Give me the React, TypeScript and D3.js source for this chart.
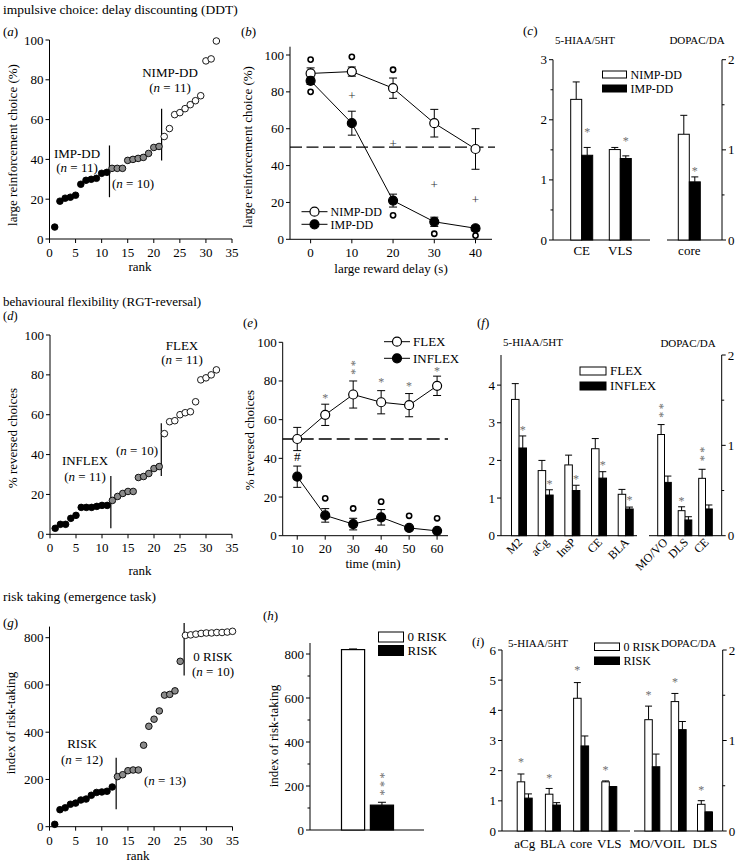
import React from "react";
import * as d3 from "d3";

const FONT = "'Liberation Serif','Times New Roman',serif";
const GRAY = "#8a8a8a";
const STARC = "#707070";

// ---------- (a) DDT ranking ----------
const ddtRankValues = [6, 19, 20.5, 21, 22, 27.5, 29.5, 30, 30.5, 33, 33.5, 35.5, 35.5, 35.5, 39.5, 40, 40.5, 41, 43, 46, 46.5, 51.5, 55.5, 62.5, 63.5, 65.5, 67.5, 69.5, 72, 89.5, 90.5, 99.5];
const ddtGroupSizes = [11, 10, 11];
const ddtCutRanks = [11.5, 21.5];
const ddtCutFrom = [21, 39.5];
const ddtCutTo = [47, 65.5];

// ---------- (b) DDT delay curve ----------
const delays = [0, 10, 20, 30, 40];
const nimpMeans = [90, 91, 82, 63, 49];
const nimpErrs = [3, 2.5, 5.5, 7.5, 11];
const impMeans = [86, 63, 21, 9.5, 6];
const impErrs = [2, 6.5, 3.5, 2.5, 1.5];
const ddtOutDelays = [0, 0, 10, 20, 20, 30, 40];
const ddtOutValues = [97.5, 80, 99, 92, 13, 3, 2];
const ddtPlusDelays = [10, 20, 30, 40];
const ddtPlusValues = [78, 52, 30, 21.5];

// ---------- (c) DDT neurochemistry ----------
const cLeftCats = ["CE", "VLS"];
const cNimpL = [2.34, 1.505];
const cNimpLErr = [2.63, 1.54];
const cImpL = [1.41, 1.356];
const cImpLErr = [1.54, 1.4];
const cStarsL = [1.83, 1.68];
const cRightCats = ["core"];
const cNimpR = [1.173];
const cNimpRErr = [1.383];
const cImpR = [0.645];
const cImpRErr = [0.7];
const cStarsR = [0.786];

// ---------- (d) RGT reversal ranking ----------
const revRankValues = [3, 5, 5, 8, 9.5, 13.5, 13.5, 13.5, 14, 14.5, 14.5, 17, 19, 20.5, 21.5, 21.5, 28.5, 29, 30.5, 33, 34, 50.5, 56.5, 57, 60, 61, 61.5, 66.5, 77.5, 78.5, 80, 82.5];
const revGroupSizes = [11, 10, 11];
const revCutRanks = [11.7, 21.4];
const revCutFrom = [3, 29.2];
const revCutTo = [29.2, 55.7];

// ---------- (e) reversal time course ----------
const times = [10, 20, 30, 40, 50, 60];
const flexMeans = [50, 62.5, 73, 69, 67.5, 77.5];
const flexErrs = [6, 5.5, 7, 6, 6, 5];
const inflexMeans = [30.5, 10.5, 6, 9.5, 4, 2.5];
const inflexErrs = [5.5, 3.5, 3, 4, 1, 1];
const eStarTimes = [20, 30, 40, 50, 60];
const eStarValues = [72.2, 84.8, 80.2, 78, 85.7];
const eStarCounts = [1, 2, 1, 1, 1];
const eHashTime = 10;
const eHashValue = 40.9;
const eOutTimes = [20, 30, 40, 50, 60];
const eOutValues = [19.3, 14.1, 17.6, 10.3, 9];

// ---------- (f) reversal neurochemistry ----------
const fLeftCats = ["M2", "aCg", "InsP", "CE", "BLA"];
const fFlexL = [3.62, 1.73, 1.88, 2.31, 1.1];
const fFlexLErr = [4.04, 2.0, 2.14, 2.58, 1.23];
const fInflexL = [2.33, 1.08, 1.2, 1.53, 0.71];
const fInflexLErr = [2.65, 1.22, 1.34, 1.7, 0.76];
const fStarsL = [2.84, 1.42, 1.55, 1.93, 1.0];
const fRightCats = ["MO/VO", "DLS", "CE"];
const fFlexR = [1.12, 0.277, 0.635];
const fFlexRErr = [1.23, 0.32, 0.735];
const fInflexR = [0.59, 0.174, 0.296];
const fInflexRErr = [0.66, 0.21, 0.34];
const fStarsR = [1.34, 0.4, 0.857];
const fStarsRCount = [2, 1, 2];

// ---------- (g) emergence ranking ----------
const riskRankValues = [10, 72, 80, 95, 100, 113, 117, 133, 145, 147, 150, 168, 212, 220, 237, 240, 240, 345, 425, 455, 490, 557, 560, 575, 700, 810, 812, 815, 818, 820, 820, 822, 822, 824, 827];
const riskGroupSizes = [12, 13, 10];
const riskCutRanks = [12.75, 25.75];
const riskCutFrom = [74, 640];
const riskCutTo = [292, 862];

// ---------- (h) risk index ----------
const hCats = ["0 RISK", "RISK"];
const hValues = [820, 113];
const hErrs = [823, 126];
const hStarValue = 171;

// ---------- (i) risk neurochemistry ----------
const iLeftCats = ["aCg", "BLA", "core", "VLS"];
const iZeroL = [1.63, 1.22, 4.4, 1.63];
const iZeroLErr = [1.89, 1.41, 4.92, 1.66];
const iRiskL = [1.09, 0.86, 2.82, 1.47];
const iRiskLErr = [1.23, 0.94, 3.15, 1.47];
const iStarsL = [2.33, 1.8, 5.39, 2.08];
const iRightCats = ["MO/VO", "IL", "DLS"];
const iZeroR = [1.23, 1.43, 0.295];
const iZeroRErr = [1.38, 1.52, 0.335];
const iRiskR = [0.71, 1.12, 0.21];
const iRiskRErr = [0.85, 1.21, 0.21];
const iStarsR = [1.52, 1.66, 0.47];

// ================= helpers =================
function YAxis({ scale, x, ticks, minor = [], topValue, side = "left", fmt = (d: number) => String(d) }: any) {
  const r0 = scale.range()[0];
  const yTop = topValue !== undefined ? scale(topValue) : scale.range()[1];
  const dir = side === "left" ? -1 : 1;
  return (
    <g>
      <line x1={x} x2={x} y1={r0} y2={yTop} stroke="#000" strokeWidth={1} />
      {ticks.map((t: number) => (
        <g key={"t" + t}>
          <line x1={x} x2={x + dir * 4} y1={scale(t)} y2={scale(t)} stroke="#000" />
          <text x={x + dir * 6} y={scale(t) + 4.5} textAnchor={side === "left" ? "end" : "start"} fontSize={13}>
            {fmt(t)}
          </text>
        </g>
      ))}
      {minor.map((t: number) => (
        <line key={"m" + t} x1={x} x2={x + dir * 2.5} y1={scale(t)} y2={scale(t)} stroke="#000" />
      ))}
    </g>
  );
}

function XAxis({ scale, y, ticks, x0, x1, off = 18 }: any) {
  return (
    <g>
      <line x1={x0} x2={x1} y1={y} y2={y} stroke="#000" />
      {ticks.map((t: number) => (
        <g key={"x" + t}>
          <line x1={scale(t)} x2={scale(t)} y1={y} y2={y + 4} stroke="#000" />
          <text x={scale(t)} y={y + off} textAnchor="middle" fontSize={13}>
            {t}
          </text>
        </g>
      ))}
    </g>
  );
}

// Significance stars. A stack of n stars is one text run turned to read upwards,
// so the asterisks sit one above the other (y = centre of the lowest star).
function Stars({ x, y, n = 1, color = STARC }: any) {
  if (n === 1) {
    return (
      <text x={x} y={y + 5.5} textAnchor="middle" fontSize={12} fill={color}>
        *
      </text>
    );
  }
  const str = "*".repeat(n);
  return (
    <text
      transform={`translate(${x + 5.8},${y + 3}) rotate(-90)`}
      fontSize={12}
      fill={color}
      letterSpacing={2.5}
    >
      {str}
    </text>
  );
}

function NLabel({ x, y, n }: any) {
  return (
    <text x={x} y={y} textAnchor="middle" fontSize={13}>
      (<tspan fontStyle="italic">n</tspan> = {n})
    </text>
  );
}

function groupFills(sizes: number[]) {
  const fills: string[] = [];
  const colors = ["#000", GRAY, "#fff"];
  sizes.forEach((s, gi) => {
    for (let k = 0; k < s; k++) fills.push(colors[gi]);
  });
  return fills;
}

function RankDots({ values, sizes, xs, ys }: any) {
  const fills = groupFills(sizes);
  return (
    <g>
      {values.map((v: number, i: number) => (
        <circle key={i} cx={xs(i + 1)} cy={ys(v)} r={3.3} fill={fills[i]} stroke="#000" strokeWidth={0.9} />
      ))}
    </g>
  );
}

function CutLines({ ranks, from, to, xs, ys }: any) {
  return (
    <g>
      {ranks.map((r: number, i: number) => (
        <line key={i} x1={xs(r)} x2={xs(r)} y1={ys(from[i])} y2={ys(to[i])} stroke="#000" strokeWidth={1.2} />
      ))}
    </g>
  );
}

function BarPairs({ pos, ys, open, openErr, filled, filledErr, w }: any) {
  return (
    <g>
      {open.map((v: number, i: number) => {
        const c = pos(i);
        const ox = c - w;
        return (
          <g key={i}>
            <line x1={c - w / 2} x2={c - w / 2} y1={ys(v)} y2={ys(openErr[i])} stroke="#000" />
            <line x1={c - w / 2 - 3.5} x2={c - w / 2 + 3.5} y1={ys(openErr[i])} y2={ys(openErr[i])} stroke="#000" />
            <line x1={c + w / 2} x2={c + w / 2} y1={ys(filled[i])} y2={ys(filledErr[i])} stroke="#000" />
            <line x1={c + w / 2 - 3.5} x2={c + w / 2 + 3.5} y1={ys(filledErr[i])} y2={ys(filledErr[i])} stroke="#000" />
            <rect x={ox} y={ys(v)} width={w} height={ys.range()[0] - ys(v)} fill="#fff" stroke="#000" strokeWidth={1} />
            <rect x={c} y={ys(filled[i])} width={w} height={ys.range()[0] - ys(filled[i])} fill="#000" stroke="#000" strokeWidth={1} />
          </g>
        );
      })}
    </g>
  );
}

function LegendBoxes({ x, y, labels, gap = 14, w = 25, h = 8, fs = 12 }: any) {
  return (
    <g>
      {labels.map((l: string, i: number) => (
        <g key={l}>
          <rect x={x} y={y + i * gap} width={w} height={h} fill={i === 0 ? "#fff" : "#000"} stroke="#000" />
          <text x={x + w + 4} y={y + i * gap + h / 2 + 4.3} fontSize={fs}>
            {l}
          </text>
        </g>
      ))}
    </g>
  );
}

function LegendLines({ x, y, labels, gap, fs = 12 }: any) {
  return (
    <g>
      {labels.map((l: string, i: number) => (
        <g key={l}>
          <line x1={x} x2={x + 26} y1={y + i * gap} y2={y + i * gap} stroke="#000" />
          <circle cx={x + 13} cy={y + i * gap} r={4.5} fill={i === 0 ? "#fff" : "#000"} stroke="#000" strokeWidth={1.2} />
          <text x={x + 29} y={y + i * gap + 4.5} fontSize={fs}>
            {l}
          </text>
        </g>
      ))}
    </g>
  );
}

function LineSeries({ xs, ys, xv, means, errs, fill }: any) {
  const line = d3
    .line<number>()
    .x((_, i) => xs(xv[i]))
    .y((d) => ys(d));
  return (
    <g>
      <path d={line(means) || ""} fill="none" stroke="#000" strokeWidth={1} />
      {means.map((m: number, i: number) => {
        const cx = xs(xv[i]);
        const lo = ys(m - errs[i]);
        const hi = ys(m + errs[i]);
        return (
          <g key={i}>
            <line x1={cx} x2={cx} y1={lo} y2={hi} stroke="#000" />
            <line x1={cx - 4} x2={cx + 4} y1={lo} y2={lo} stroke="#000" />
            <line x1={cx - 4} x2={cx + 4} y1={hi} y2={hi} stroke="#000" />
          </g>
        );
      })}
      {means.map((m: number, i: number) => (
        <circle key={"c" + i} cx={xs(xv[i])} cy={ys(m)} r={4.5} fill={fill} stroke="#000" strokeWidth={1.2} />
      ))}
    </g>
  );
}

function PanelLabel({ x, y, letter, fs = 13 }: any) {
  return (
    <text x={x} y={y} fontSize={fs}>
      (<tspan fontStyle="italic">{letter}</tspan>)
    </text>
  );
}

function YLabel({ x, y, text }: any) {
  return (
    <text transform={`translate(${x},${y}) rotate(-90)`} textAnchor="middle" fontSize={13}>
      {text}
    </text>
  );
}

export default function App() {
  // (a)
  const xa = d3.scaleLinear().domain([0, 35]).range([49.5, 232]);
  const ya = d3.scaleLinear().domain([0, 100]).range([239, 40]);
  // (b)
  const xb = d3.scaleLinear().domain([-5, 44]).range([290, 492]);
  const yb = d3.scaleLinear().domain([0, 100]).range([239.3, 55]);
  // (c)
  const ycL = d3.scaleLinear().domain([0, 3]).range([240, 59.7]);
  const ycR = d3.scaleLinear().domain([0, 2]).range([240, 59.7]);
  const pcL = d3.scalePoint<number>().domain(d3.range(cLeftCats.length)).range([581.7, 620.3]);
  const pcR = d3.scalePoint<number>().domain(d3.range(cRightCats.length)).range([689.3, 689.3]);
  // (d)
  const xd = d3.scaleLinear().domain([0, 35]).range([50, 232]);
  const yd = d3.scaleLinear().domain([0, 100]).range([534.3, 335]);
  // (e)
  const xe = d3.scaleLinear().domain([4.8, 63.9]).range([282.7, 448]);
  const ye = d3.scaleLinear().domain([0, 100]).range([535.7, 342.3]);
  // (f)
  const yfL = d3.scaleLinear().domain([0, 4.8]).range([535.7, 355]);
  const yfR = d3.scaleLinear().domain([0, 2]).range([535.7, 355]);
  const pfL = d3.scalePoint<number>().domain(d3.range(fLeftCats.length)).range([519, 625.7]);
  const pfR = d3.scalePoint<number>().domain(d3.range(fRightCats.length)).range([664.5, 705.5]);
  // (g)
  const xg = d3.scaleLinear().domain([0, 35]).range([49.5, 232.5]);
  const yg = d3.scaleLinear().domain([0, 800]).range([826.7, 637.7]);
  // (h)
  const yh = d3.scaleLinear().domain([0, 800]).range([830, 654]);
  const bh = d3.scaleBand<string>().domain(hCats).range([341.5, 393.5]).paddingInner(0.2);
  // (i)
  const yiL = d3.scaleLinear().domain([0, 6]).range([831, 650]);
  const yiR = d3.scaleLinear().domain([0, 2]).range([831, 650]);
  const piL = d3.scalePoint<number>().domain(d3.range(iLeftCats.length)).range([524.7, 609.3]);
  const piR = d3.scalePoint<number>().domain(d3.range(iRightCats.length)).range([652.3, 705]);

  return (
    <svg
      width={740}
      height={863}
      style={{ position: "absolute", left: 0, top: 0, display: "block", background: "#fff" }}
      fontFamily={FONT}
    >
      <rect x={0} y={0} width={740} height={863} fill="#fff" />

      {/* ===== Row 1 ===== */}
      <text x={3} y={14} fontSize={13.5}>impulsive choice: delay discounting (DDT)</text>

      {/* (a) */}
      <PanelLabel x={3} y={36} letter="a" />
      <YAxis scale={ya} x={49.5} ticks={[0, 20, 40, 60, 80, 100]} />
      <XAxis scale={xa} y={239} ticks={[0, 5, 10, 15, 20, 25, 30, 35]} x0={49.5} x1={232} />
      <CutLines ranks={ddtCutRanks} from={ddtCutFrom} to={ddtCutTo} xs={xa} ys={ya} />
      <RankDots values={ddtRankValues} sizes={ddtGroupSizes} xs={xa} ys={ya} />
      <text x={77} y={157.5} textAnchor="middle" fontSize={13}>IMP-DD</text>
      <NLabel x={77} y={171.5} n={11} />
      <NLabel x={133} y={187.5} n={10} />
      <text x={170} y={76.5} textAnchor="middle" fontSize={13}>NIMP-DD</text>
      <NLabel x={170} y={91.5} n={11} />
      <YLabel x={17} y={145} text="large reinforcement choice (%)" />
      <text x={140} y={271} textAnchor="middle" fontSize={13}>rank</text>

      {/* (b) */}
      <PanelLabel x={241} y={36} letter="b" />
      <YAxis scale={yb} x={290} ticks={[0, 20, 40, 60, 80, 100]} topValue={104.5} />
      <XAxis scale={xb} y={239.3} ticks={delays} x0={290} x1={492} />
      <line x1={290} x2={495} y1={yb(50)} y2={yb(50)} stroke="#000" strokeWidth={1.3} strokeDasharray="12,4.5" />
      <LineSeries xs={xb} ys={yb} xv={delays} means={nimpMeans} errs={nimpErrs} fill="#fff" />
      <LineSeries xs={xb} ys={yb} xv={delays} means={impMeans} errs={impErrs} fill="#000" />
      {ddtOutValues.map((v, i) => (
        <circle key={"bo" + i} cx={xb(ddtOutDelays[i])} cy={yb(v)} r={2.6} fill="#fff" stroke="#000" strokeWidth={1.6} />
      ))}
      {ddtPlusValues.map((v, i) => (
        <text key={"bp" + i} x={xb(ddtPlusDelays[i])} y={yb(v) + 4.5} textAnchor="middle" fontSize={13} fill="#333">+</text>
      ))}
      <LegendLines x={301.5} y={211.7} labels={["NIMP-DD", "IMP-DD"]} gap={12.6} fs={12} />
      <YLabel x={251.5} y={147} text="large reinforcement choice (%)" />
      <text x={391} y={273} textAnchor="middle" fontSize={13}>large reward delay (s)</text>

      {/* (c) */}
      <PanelLabel x={523} y={35} letter="c" />
      <text x={585} y={44} textAnchor="middle" fontSize={11}>5-HIAA/5HT</text>
      <text x={697} y={44} textAnchor="middle" fontSize={11}>DOPAC/DA</text>
      <YAxis scale={ycL} x={553} ticks={[0, 1, 2, 3]} minor={[0.5, 1.5, 2.5]} />
      <YAxis scale={ycR} x={722} ticks={[0, 1, 2]} minor={[0.5, 1.5]} side="right" />
      <line x1={553} x2={650} y1={240} y2={240} stroke="#000" />
      <line x1={667} x2={722} y1={240} y2={240} stroke="#000" />
      <BarPairs pos={pcL} ys={ycL} open={cNimpL} openErr={cNimpLErr} filled={cImpL} filledErr={cImpLErr} w={11} />
      <BarPairs pos={pcR} ys={ycR} open={cNimpR} openErr={cNimpRErr} filled={cImpR} filledErr={cImpRErr} w={11} />
      {cStarsL.map((v, i) => <Stars key={"cs" + i} x={pcL(i)! + 5.5} y={ycL(v)} />)}
      {cStarsR.map((v, i) => <Stars key={"csr" + i} x={pcR(i)! + 5.5} y={ycR(v)} />)}
      {cLeftCats.map((c, i) => (
        <text key={c} x={pcL(i)} y={255} textAnchor="middle" fontSize={13}>{c}</text>
      ))}
      {cRightCats.map((c, i) => (
        <text key={c} x={pcR(i)} y={255} textAnchor="middle" fontSize={13}>{c}</text>
      ))}
      <LegendBoxes x={602.5} y={71} labels={["NIMP-DD", "IMP-DD"]} gap={14} w={24} h={7} fs={12} />

      {/* ===== Row 2 ===== */}
      <text x={3} y={305.5} fontSize={13}>behavioural flexibility (RGT-reversal)</text>

      {/* (d) */}
      <PanelLabel x={3} y={320} letter="d" fs={12.5} />
      <YAxis scale={yd} x={50} ticks={[0, 20, 40, 60, 80, 100]} />
      <XAxis scale={xd} y={534.3} ticks={[0, 5, 10, 15, 20, 25, 30, 35]} x0={50} x1={232} />
      <CutLines ranks={revCutRanks} from={revCutFrom} to={revCutTo} xs={xd} ys={yd} />
      <RankDots values={revRankValues} sizes={revGroupSizes} xs={xd} ys={yd} />
      <text x={85} y={465} textAnchor="middle" fontSize={13}>INFLEX</text>
      <NLabel x={85} y={481} n={11} />
      <NLabel x={137} y={455} n={10} />
      <text x={182} y={349.5} textAnchor="middle" fontSize={13}>FLEX</text>
      <NLabel x={182} y={363.5} n={11} />
      <YLabel x={17} y={438} text="% reversed choices" />
      <text x={140} y={575} textAnchor="middle" fontSize={13}>rank</text>

      {/* (e) */}
      <PanelLabel x={243} y={327} letter="e" />
      <YAxis scale={ye} x={282.7} ticks={[0, 20, 40, 60, 80, 100]} />
      <XAxis scale={xe} y={535.7} ticks={times} x0={282.7} x1={448} off={16.8} />
      <line x1={282.7} x2={448} y1={ye(50)} y2={ye(50)} stroke="#000" strokeWidth={1.3} strokeDasharray="13,5" />
      <LineSeries xs={xe} ys={ye} xv={times} means={flexMeans} errs={flexErrs} fill="#fff" />
      <LineSeries xs={xe} ys={ye} xv={times} means={inflexMeans} errs={inflexErrs} fill="#000" />
      {eStarValues.map((v, i) => (
        <Stars key={"es" + i} x={xe(eStarTimes[i])} y={ye(v)} n={eStarCounts[i]} />
      ))}
      <text x={xe(eHashTime)} y={ye(eHashValue) + 4.5} textAnchor="middle" fontSize={13}>#</text>
      {eOutValues.map((v, i) => (
        <circle key={"eo" + i} cx={xe(eOutTimes[i])} cy={ye(v)} r={2.6} fill="#fff" stroke="#000" strokeWidth={1.6} />
      ))}
      <LegendLines x={384} y={341.7} labels={["FLEX", "INFLEX"]} gap={16.6} fs={13} />
      <YLabel x={254} y={440} text="% reversed choices" />
      <text x={373} y={568} textAnchor="middle" fontSize={13}>time (min)</text>

      {/* (f) */}
      <PanelLabel x={477} y={327} letter="f" />
      <text x={533} y={345.5} textAnchor="middle" fontSize={11}>5-HIAA/5HT</text>
      <text x={688} y={347} textAnchor="middle" fontSize={11}>DOPAC/DA</text>
      <YAxis scale={yfL} x={501} ticks={[0, 1, 2, 3, 4]} topValue={4.8} />
      <YAxis scale={yfR} x={721.7} ticks={[0, 1, 2]} minor={[0.5, 1.5]} side="right" />
      <line x1={501} x2={637} y1={535.7} y2={535.7} stroke="#000" />
      <line x1={649} x2={721.7} y1={535.7} y2={535.7} stroke="#000" />
      <BarPairs pos={pfL} ys={yfL} open={fFlexL} openErr={fFlexLErr} filled={fInflexL} filledErr={fInflexLErr} w={7.5} />
      <BarPairs pos={pfR} ys={yfR} open={fFlexR} openErr={fFlexRErr} filled={fInflexR} filledErr={fInflexRErr} w={6.8} />
      {fStarsL.map((v, i) => <Stars key={"fs" + i} x={pfL(i)! + 3.75} y={yfL(v)} />)}
      {fStarsR.map((v, i) => <Stars key={"fsr" + i} x={pfR(i)! - 3.4} y={yfR(v)} n={fStarsRCount[i]} />)}
      {fLeftCats.map((c, i) => (
        <text key={"fl" + c} transform={`translate(${pfL(i)! + 4},${543}) rotate(-45)`} textAnchor="end" fontSize={12}>{c}</text>
      ))}
      {fRightCats.map((c, i) => (
        <text key={"fr" + c} transform={`translate(${pfR(i)! + 4},${543}) rotate(-45)`} textAnchor="end" fontSize={12}>{c}</text>
      ))}
      <LegendBoxes x={580} y={367} labels={["FLEX", "INFLEX"]} gap={15} w={26} h={8} fs={13} />

      {/* ===== Row 3 ===== */}
      <text x={3} y={601} fontSize={13.5}>risk taking (emergence task)</text>

      {/* (g) */}
      <PanelLabel x={3} y={627} letter="g" />
      <YAxis scale={yg} x={49.5} ticks={[0, 200, 400, 600, 800]} topValue={847} />
      <XAxis scale={xg} y={826.7} ticks={[0, 5, 10, 15, 20, 25, 30, 35]} x0={49.5} x1={232.5} />
      <CutLines ranks={riskCutRanks} from={riskCutFrom} to={riskCutTo} xs={xg} ys={yg} />
      <RankDots values={riskRankValues} sizes={riskGroupSizes} xs={xg} ys={yg} />
      <text x={82} y={747.5} textAnchor="middle" fontSize={13}>RISK</text>
      <NLabel x={82} y={763.5} n={12} />
      <NLabel x={165} y={784.5} n={13} />
      <text x={213} y={660.5} textAnchor="middle" fontSize={13}>0 RISK</text>
      <NLabel x={213} y={676} n={10} />
      <YLabel x={14.5} y={723} text="index of risk-taking" />
      <text x={138} y={860} textAnchor="middle" fontSize={13}>rank</text>

      {/* (h) */}
      <PanelLabel x={263} y={620} letter="h" />
      <YAxis scale={yh} x={310} ticks={[0, 200, 400, 600, 800]} minor={[100, 300, 500, 700]} topValue={850} />
      <line x1={310} x2={424} y1={830} y2={830} stroke="#000" />
      {hCats.map((c, i) => {
        const x0 = bh(c)!;
        const bw = bh.bandwidth();
        return (
          <g key={c}>
            <line x1={x0 + bw / 2} x2={x0 + bw / 2} y1={yh(hValues[i])} y2={yh(hErrs[i])} stroke="#000" />
            <line x1={x0 + bw / 2 - 4} x2={x0 + bw / 2 + 4} y1={yh(hErrs[i])} y2={yh(hErrs[i])} stroke="#000" />
            <rect x={x0} y={yh(hValues[i])} width={bw} height={830 - yh(hValues[i])} fill={i === 0 ? "#fff" : "#000"} stroke="#000" strokeWidth={1.2} />
          </g>
        );
      })}
      <Stars x={bh("RISK")! + bh.bandwidth() / 2} y={yh(hStarValue)} n={3} />
      <LegendBoxes x={378.5} y={632} labels={["0 RISK", "RISK"]} gap={13.5} w={25} h={10} fs={13} />
      <YLabel x={277.5} y={736} text="index of risk-taking" />

      {/* (i) */}
      <PanelLabel x={472} y={646} letter="i" />
      <text x={538} y={647} textAnchor="middle" fontSize={11}>5-HIAA/5HT</text>
      <text x={661} y={647} fontSize={11}>DOPAC/DA</text>
      <YAxis scale={yiL} x={502} ticks={[0, 1, 2, 3, 4, 5, 6]} />
      <YAxis scale={yiR} x={722.7} ticks={[0, 1, 2]} minor={[0.5, 1.5]} side="right" />
      <line x1={502} x2={630} y1={831} y2={831} stroke="#000" />
      <line x1={634} x2={722.7} y1={831} y2={831} stroke="#000" />
      <BarPairs pos={piL} ys={yiL} open={iZeroL} openErr={iZeroLErr} filled={iRiskL} filledErr={iRiskLErr} w={7.5} />
      <BarPairs pos={piR} ys={yiR} open={iZeroR} openErr={iZeroRErr} filled={iRiskR} filledErr={iRiskRErr} w={7.5} />
      {iStarsL.map((v, i) => <Stars key={"is" + i} x={piL(i)! - 3.75} y={yiL(v)} />)}
      {iStarsR.map((v, i) => <Stars key={"isr" + i} x={piR(i)! - 3.75} y={yiR(v)} />)}
      {iLeftCats.map((c, i) => (
        <text key={"il" + c} x={piL(i)} y={848} textAnchor="middle" fontSize={13}>{c}</text>
      ))}
      {/* right-hand labels: "MO/VO" ends where "IL" begins, as in the original */}
      <text x={piR(1)! - 6} y={848} textAnchor="end" fontSize={13}>{iRightCats[0]}</text>
      <text x={piR(1)! - 5.8} y={848} textAnchor="start" fontSize={13}>{iRightCats[1]}</text>
      <text x={piR(2)} y={848} textAnchor="middle" fontSize={13}>{iRightCats[2]}</text>
      <LegendBoxes x={594.5} y={643} labels={["0 RISK", "RISK"]} gap={14} w={25} h={7.5} fs={12} />
    </svg>
  );
}
